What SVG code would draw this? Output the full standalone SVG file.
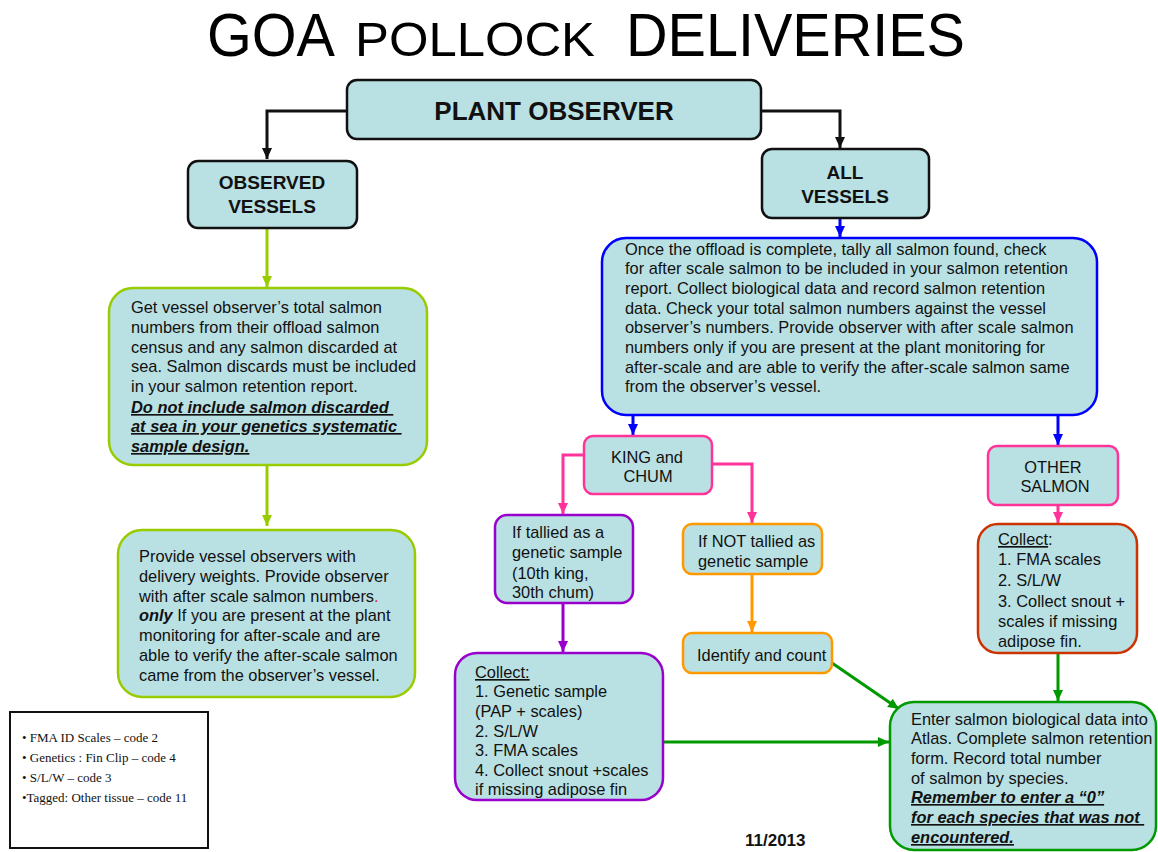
<svg xmlns="http://www.w3.org/2000/svg" width="1158" height="852" viewBox="0 0 1158 852">
<style>
.box{fill:#b9e0e3;stroke-width:2.5}
.t{font-family:"Liberation Sans",Arial,sans-serif;font-size:16.4px;fill:#111}
.h{font-family:"Liberation Sans",Arial,sans-serif;font-weight:bold;fill:#111}
.bi{font-weight:bold;font-style:italic;text-decoration:underline}
.c{fill:none;stroke-width:3}
.leg{font-family:"Liberation Serif","Times New Roman",serif;font-size:13px;fill:#111}
</style>
<defs>
<marker id="mk" markerUnits="userSpaceOnUse" markerWidth="12" markerHeight="12" refX="11" refY="6" orient="auto"><path d="M0,1 L11,6 L0,11 z" fill="#111"/></marker>
<marker id="mg" markerUnits="userSpaceOnUse" markerWidth="12" markerHeight="12" refX="11" refY="6" orient="auto"><path d="M0,1 L11,6 L0,11 z" fill="#99cc00"/></marker>
<marker id="mb" markerUnits="userSpaceOnUse" markerWidth="12" markerHeight="12" refX="11" refY="6" orient="auto"><path d="M0,1 L11,6 L0,11 z" fill="#0000ff"/></marker>
<marker id="mp" markerUnits="userSpaceOnUse" markerWidth="12" markerHeight="12" refX="11" refY="6" orient="auto"><path d="M0,1 L11,6 L0,11 z" fill="#ff3399"/></marker>
<marker id="mv" markerUnits="userSpaceOnUse" markerWidth="12" markerHeight="12" refX="11" refY="6" orient="auto"><path d="M0,1 L11,6 L0,11 z" fill="#9900cc"/></marker>
<marker id="mo" markerUnits="userSpaceOnUse" markerWidth="12" markerHeight="12" refX="11" refY="6" orient="auto"><path d="M0,1 L11,6 L0,11 z" fill="#ff9900"/></marker>
<marker id="mgr" markerUnits="userSpaceOnUse" markerWidth="12" markerHeight="12" refX="11" refY="6" orient="auto"><path d="M0,1 L11,6 L0,11 z" fill="#009900"/></marker>
</defs>
<rect width="1158" height="852" fill="#fff"/>

<g id="title" font-family="'Liberation Sans',Arial,sans-serif" fill="#000">
<text x="207" y="56" font-size="61" textLength="128" lengthAdjust="spacingAndGlyphs">GOA</text>
<text x="355" y="56" font-size="49" textLength="240" lengthAdjust="spacingAndGlyphs">POLLOCK</text>
<text x="626" y="56" font-size="61" textLength="339" lengthAdjust="spacingAndGlyphs">DELIVERIES</text>
</g>

<g id="connectors">
<path class="c" stroke="#111" d="M347,111 H267 V159" marker-end="url(#mk)"/>
<path class="c" stroke="#111" d="M761,111 H840 V148" marker-end="url(#mk)"/>
<path class="c" stroke="#99cc00" d="M267,229 V287" marker-end="url(#mg)"/>
<path class="c" stroke="#99cc00" d="M267,466 V526" marker-end="url(#mg)"/>
<path class="c" stroke="#0000ff" d="M840,219 V237" marker-end="url(#mb)"/>
<path class="c" stroke="#0000ff" d="M633,416 V435" marker-end="url(#mb)"/>
<path class="c" stroke="#0000ff" d="M1058,416 V445" marker-end="url(#mb)"/>
<path class="c" stroke="#ff3399" d="M584,455 H563 V514" marker-end="url(#mp)"/>
<path class="c" stroke="#ff3399" d="M712,464 H752 V523" marker-end="url(#mp)"/>
<path class="c" stroke="#ff3399" d="M1058,506 V523" marker-end="url(#mp)"/>
<path class="c" stroke="#9900cc" d="M563,604 V652" marker-end="url(#mv)"/>
<path class="c" stroke="#ff9900" d="M752,575 V632" marker-end="url(#mo)"/>
<path class="c" stroke="#009900" d="M832,663 L899,709" marker-end="url(#mgr)"/>
<path class="c" stroke="#009900" d="M663,742 H889" marker-end="url(#mgr)"/>
<path class="c" stroke="#009900" d="M1058,654 V701" marker-end="url(#mgr)"/>
</g>

<g id="plant-observer">
<rect class="box" stroke="#111" x="347" y="80" width="414" height="59" rx="10"/>
<text class="h" x="554" y="120" font-size="26" text-anchor="middle">PLANT OBSERVER</text>
</g>

<g id="observed-vessels">
<rect class="box" stroke="#111" x="188" y="161" width="169" height="67" rx="10"/>
<text class="h" font-size="19" text-anchor="middle"><tspan x="272" y="189">OBSERVED</tspan><tspan x="272" y="213">VESSELS</tspan></text>
</g>

<g id="all-vessels">
<rect class="box" stroke="#111" x="762" y="149" width="167" height="69" rx="10"/>
<text class="h" font-size="19" text-anchor="middle"><tspan x="845" y="179">ALL</tspan><tspan x="845" y="203">VESSELS</tspan></text>
</g>

<g id="observed-get">
<rect class="box" stroke="#99cc00" x="109" y="288" width="318" height="177" rx="24"/>
<text class="t"><tspan x="131" y="313">Get vessel observer’s total salmon</tspan><tspan x="131" y="333">numbers from their offload salmon</tspan><tspan x="131" y="353">census and any salmon discarded at</tspan><tspan x="131" y="372">sea. Salmon discards must be included</tspan><tspan x="131" y="392">in your salmon retention report.</tspan><tspan class="bi" x="131" y="413">Do not include salmon discarded </tspan><tspan class="bi" x="131" y="432">at sea in your genetics systematic </tspan><tspan class="bi" x="131" y="452">sample design.  </tspan></text>
</g>

<g id="observed-provide">
<rect class="box" stroke="#99cc00" x="118" y="530" width="297" height="167" rx="24"/>
<text class="t"><tspan x="139" y="562">Provide vessel observers with</tspan><tspan x="139" y="582">delivery weights. Provide observer</tspan><tspan x="139" y="602">with after scale salmon numbers<tspan fill="#cc3333">.</tspan></tspan><tspan x="139" y="621"><tspan font-weight="bold" font-style="italic">only</tspan> If  you are present at the plant</tspan><tspan x="139" y="641">monitoring for after-scale and are</tspan><tspan x="139" y="661">able to verify the after-scale salmon</tspan><tspan x="139" y="681">came from the observer’s vessel.</tspan></text>
</g>

<g id="all-tally">
<rect class="box" stroke="#0000ff" x="602" y="238" width="495" height="177" rx="24"/>
<text class="t"><tspan x="625" y="255">Once the offload is complete, tally all salmon found, check</tspan><tspan x="625" y="274">for after scale salmon to be included in your salmon retention</tspan><tspan x="625" y="294">report. Collect biological data and record salmon retention</tspan><tspan x="625" y="314">data. Check your total salmon numbers against the vessel</tspan><tspan x="625" y="333">observer’s numbers. Provide observer with after scale salmon</tspan><tspan x="625" y="353">numbers only if you are present at the plant monitoring for</tspan><tspan x="625" y="373">after-scale and are able to verify the after-scale salmon same</tspan><tspan x="625" y="392">from the observer’s vessel.</tspan></text>
</g>

<g id="king-chum">
<rect class="box" stroke="#ff3399" x="584" y="436" width="128" height="58" rx="9"/>
<text class="t" text-anchor="middle"><tspan x="647" y="463">KING  and</tspan><tspan x="648" y="482">CHUM</tspan></text>
</g>

<g id="other-salmon">
<rect class="box" stroke="#ff3399" x="988" y="446" width="130" height="59" rx="9"/>
<text class="t" text-anchor="middle"><tspan x="1053" y="473">OTHER</tspan><tspan x="1055" y="492">SALMON</tspan></text>
</g>

<g id="tallied">
<rect class="box" stroke="#9900cc" x="495" y="515" width="138" height="88" rx="12"/>
<text class="t"><tspan x="512" y="538">If tallied as a</tspan><tspan x="512" y="558">genetic sample</tspan><tspan x="512" y="579">(10th king,</tspan><tspan x="512" y="598">30th chum)</tspan></text>
</g>

<g id="not-tallied">
<rect class="box" stroke="#ff9900" x="683" y="524" width="139" height="50" rx="9"/>
<text class="t"><tspan x="698" y="547">If NOT  tallied as</tspan><tspan x="698" y="567">genetic sample</tspan></text>
</g>

<g id="identify">
<rect class="box" stroke="#ff9900" x="683" y="633" width="149" height="40" rx="9"/>
<text class="t" x="697" y="661">Identify and count</text>
</g>

<g id="collect-genetic">
<rect class="box" stroke="#9900cc" x="455" y="653" width="208" height="147" rx="22"/>
<text class="t"><tspan x="475" y="678" text-decoration="underline">Collect:</tspan><tspan x="475" y="697">1. Genetic sample</tspan><tspan x="475" y="717">(PAP + scales)</tspan><tspan x="475" y="737">2. S/L/W</tspan><tspan x="475" y="756">3. FMA scales</tspan><tspan x="475" y="776">4. Collect snout +scales</tspan><tspan x="475" y="795">if missing adipose fin</tspan></text>
</g>

<g id="collect-other">
<rect class="box" stroke="#cc3300" x="978" y="524" width="159" height="129" rx="20"/>
<text class="t"><tspan x="998" y="545"><tspan text-decoration="underline">Collect</tspan>:</tspan><tspan x="998" y="565">1. FMA scales</tspan><tspan x="998" y="586">2. S/L/W</tspan><tspan x="998" y="607">3. Collect snout +</tspan><tspan x="998" y="627">scales if missing</tspan><tspan x="998" y="647">adipose fin.</tspan></text>
</g>

<g id="enter-data">
<rect class="box" stroke="#009900" x="890" y="702" width="266" height="148" rx="24"/>
<text class="t"><tspan x="911" y="725">Enter salmon biological data into</tspan><tspan x="911" y="744">Atlas. Complete salmon retention</tspan><tspan x="911" y="764">form. Record total number</tspan><tspan x="911" y="784">of salmon by species.</tspan><tspan class="bi" x="911" y="803">Remember to enter a “0”</tspan><tspan class="bi" x="911" y="823">for each species that was not </tspan><tspan class="bi" x="911" y="843">encountered.  </tspan></text>
</g>

<g id="legend">
<rect x="10" y="712" width="198" height="136" fill="#fff" stroke="#111" stroke-width="2"/>
<text class="leg"><tspan x="22" y="742">• FMA ID Scales – code 2</tspan><tspan x="22" y="762">• Genetics : Fin Clip – code 4</tspan><tspan x="22" y="782">• S/L/W – code 3</tspan><tspan x="22" y="802">•Tagged: Other tissue – code 11</tspan></text>
</g>

<g id="date">
<text class="h" x="745" y="846" font-size="17">11/2013</text>
</g>
</svg>
